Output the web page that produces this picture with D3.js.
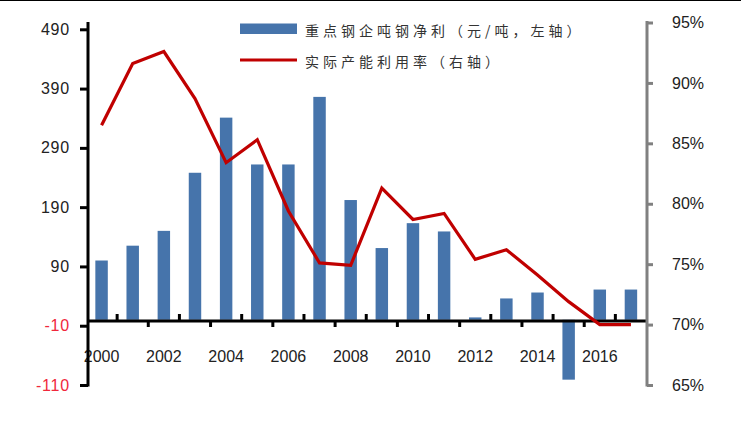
<!DOCTYPE html>
<html><head><meta charset="utf-8">
<script src="https://cdn.jsdelivr.net/npm/d3@7"></script>
<style>
html,body{margin:0;padding:0;background:#fff;}
svg{display:block;}
</style></head>
<body>
<svg id="chart" width="741" height="422"></svg>
<script>
const years = ["2000","2001","2002","2003","2004","2005","2006","2007","2008","2009","2010","2011","2012","2013","2014","2015","2016","2017"];
const profit = [100,125,150,248,341,262,262,376,202,121,163,149,4,36,46,-101,51,51];
const utilization = [86.5,91.6,92.6,88.7,83.4,85.3,79.4,75.1,74.9,81.3,78.7,79.2,75.4,76.2,74.1,71.9,70.0,70.0];
const leftTicks = [-110,-10,90,190,290,390,490];
const rightTicks = [65,70,75,80,85,90,95];
const xLabels = ["2000","2002","2004","2006","2008","2010","2012","2014","2016"];
const legendLabels = ["重点钢企吨钢净利（元/吨，左轴）","实际产能利用率（右轴）"];

const svg = d3.select("#chart");
const BLUE = "#4674ab", RED = "#c00000";

// top border
svg.append("line").attr("x1",0).attr("x2",741).attr("y1",0.5).attr("y2",0.5)
  .attr("stroke","#000").attr("stroke-width",1);

const x = d3.scaleBand().domain(years).range([86, 646.5]).paddingInner(0.6).paddingOuter(0.3);
const yL = d3.scaleLinear().domain([-110, 490]).range([385, 29.3]);
const yR = d3.scaleLinear().domain([65, 95]).range([385, 22.5]);
const cx = d => x(d) + x.bandwidth()/2;

// bars
svg.append("g").selectAll("rect").data(years).join("rect")
  .attr("x", d => x(d))
  .attr("width", x.bandwidth())
  .attr("y", (d,i) => yL(Math.max(0, profit[i])))
  .attr("height", (d,i) => Math.abs(yL(profit[i]) - yL(0)))
  .attr("fill", BLUE);

// x axis line at 0
const y0 = yL(0) + 1.2;
svg.append("line").attr("x1", 88).attr("x2", 647).attr("y1", y0).attr("y2", y0)
  .attr("stroke","#000").attr("stroke-width",3);
// x ticks at category boundaries, alternating up/down
const bounds = years.slice(0, -1).map((d,i) => ({pos: x(d) + x.step() - (x.step()-x.bandwidth())/2, up: i % 2 === 0}));
svg.append("g").selectAll("line").data(bounds).join("line")
  .attr("x1", d => d.pos).attr("x2", d => d.pos)
  .attr("y1", d => d.up ? y0 - 7 : y0)
  .attr("y2", d => d.up ? y0 : y0 + 6)
  .attr("stroke","#000").attr("stroke-width",3);
// x labels
svg.append("g").selectAll("text").data(xLabels).join("text")
  .attr("x", d => cx(d)).attr("y", 362)
  .attr("text-anchor","middle")
  .attr("font-family","Liberation Sans, Arial, sans-serif").attr("font-size",16)
  .attr("fill","#222").text(d => d);

// line
const line = d3.line().x((d,i) => cx(years[i])).y(d => yR(d));
svg.append("path").datum(utilization).attr("d", line)
  .attr("fill","none").attr("stroke", RED).attr("stroke-width",3.2).attr("stroke-linejoin","miter");

// left axis
const gL = svg.append("g").attr("transform","translate(88,0)")
  .call(d3.axisLeft(yL).tickValues(leftTicks).tickSize(8).tickPadding(10).tickFormat(d => String(d)));
gL.select(".domain").remove();
gL.selectAll(".tick line").attr("stroke","#000").attr("stroke-width",3);
gL.selectAll(".tick text").attr("font-family","Liberation Sans, Arial, sans-serif").attr("font-size",16)
  .attr("letter-spacing","0.8px")
  .attr("fill", d => d < 0 ? "#f0283c" : "#222");
svg.append("line").attr("x1",88).attr("x2",88).attr("y1",22).attr("y2",386.5)
  .attr("stroke","#000").attr("stroke-width",3);

// right axis
const gR = svg.append("g").attr("transform","translate(647,0)")
  .call(d3.axisRight(yR).tickValues(rightTicks).tickSize(6).tickPadding(19).tickFormat(d => d + "%"));
gR.select(".domain").remove();
gR.selectAll(".tick line").attr("stroke","#808080").attr("stroke-width",3);
gR.selectAll(".tick text").attr("font-family","Liberation Sans, Arial, sans-serif").attr("font-size",16)
  .attr("fill","#222");
svg.append("line").attr("x1",647).attr("x2",647).attr("y1",21).attr("y2",386.5)
  .attr("stroke","#808080").attr("stroke-width",3);

// legend
const lg = svg.append("g");
lg.append("rect").attr("x",240).attr("y",23.5).attr("width",57).attr("height",10.5).attr("fill",BLUE);
lg.append("line").attr("x1",240).attr("x2",297).attr("y1",60).attr("y2",60).attr("stroke",RED).attr("stroke-width",3.2);
lg.selectAll("text").data(legendLabels).join("text")
  .attr("x",305).attr("y",(d,i) => i === 0 ? 32 : 63)
  .attr("dominant-baseline","middle")
  .attr("font-family","Noto Sans CJK SC, sans-serif").attr("font-size",14)
  .attr("letter-spacing","4px")
  .attr("fill","#333").text(d => d);
</script>
</body></html>
